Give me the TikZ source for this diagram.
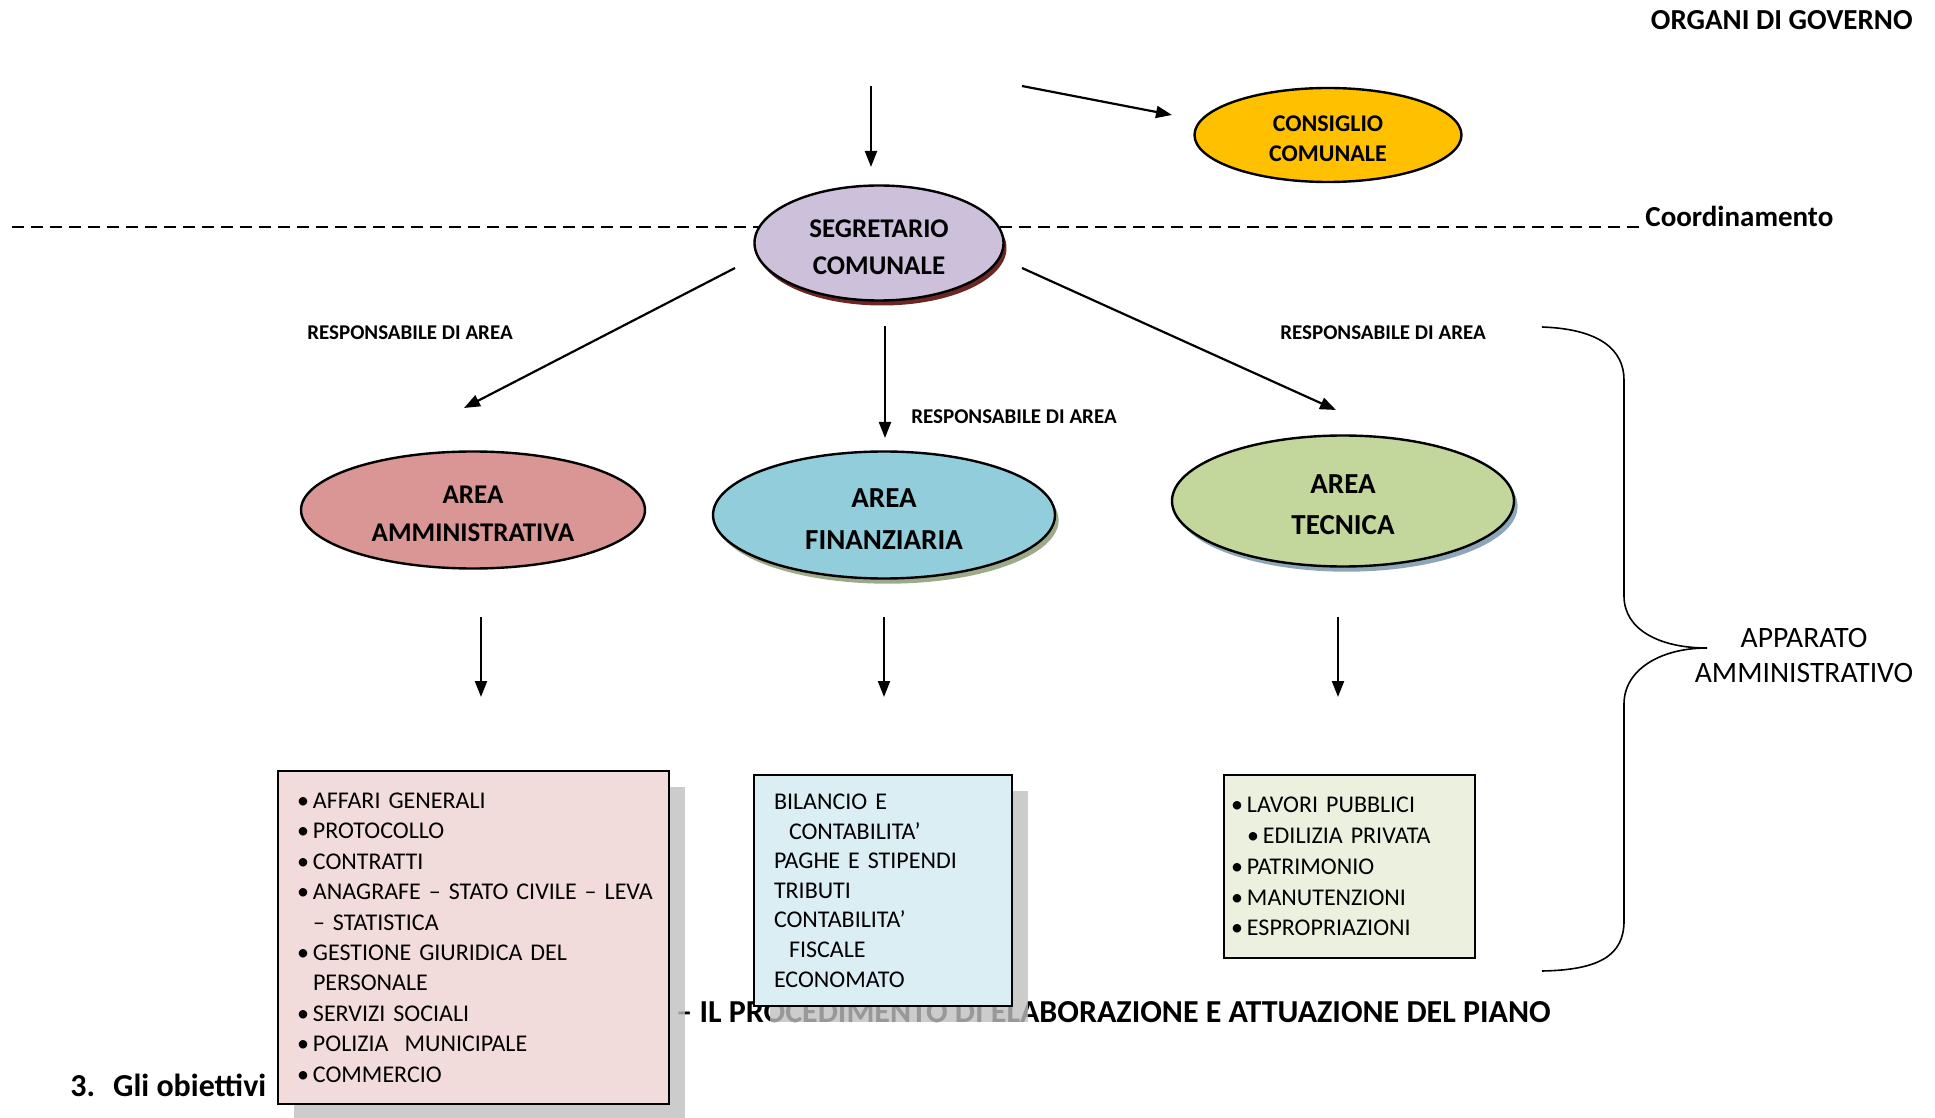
\documentclass[tikz,border=0pt]{standalone}
\usepackage{fontspec}
\setmainfont{Carlito}
\usepackage{tikz}
\usetikzlibrary{arrows.meta, positioning, shapes.geometric, shadows}

\definecolor{consiglio}{HTML}{FFC000}
\definecolor{segretario}{HTML}{CCC0DA}
\definecolor{segshadow}{HTML}{6B2626}
\definecolor{amm}{HTML}{D99694}
\definecolor{fin}{HTML}{92CDDC}
\definecolor{finshadow}{HTML}{9DAA8A}
\definecolor{tec}{HTML}{C3D69B}
\definecolor{tecshadow}{HTML}{8DA6B8}
\definecolor{boxamm}{HTML}{F2DCDB}
\definecolor{boxfin}{HTML}{DBEEF4}
\definecolor{boxtec}{HTML}{EBF1DE}
\definecolor{shadowgray}{HTML}{BFBFBF}

\newcommand{\blt}{\makebox[8pt][l]{\textbullet}}
\newcommand{\dn}[1]{\raisebox{-2pt}[\height][\depth]{#1}}

\begin{document}
\begin{tikzpicture}[
  x=0.5pt, y=-0.5pt,
  org/.style={ellipse, draw, line width=1.2pt, inner sep=0pt, align=center},
  lst/.style={draw, line width=0.9pt, align=left, inner ysep=0pt},
  arr/.style={-{Triangle[length=8pt, width=6pt]}, line width=1.1pt},
  resp/.style={font=\fontsize{10.5}{12}\selectfont\bfseries},
  title/.style={inner sep=0pt, font=\fontsize{14.5}{17}\selectfont\bfseries},
  bigtitle/.style={inner sep=0pt, font=\fontsize{16}{19}\selectfont\bfseries},
  boxshadow/.style={drop shadow={shadow xshift=8pt, shadow yshift=-8pt,
                    fill=shadowgray, opacity=0.8}}]
\useasboundingbox (0,0) rectangle (1935,1118);
\node[title, anchor=east] (organi) at (1913,20) {ORGANI DI GOVERNO};
\node[title, anchor=base west] (coord) at (1645,227) {Coordinamento};
\coordinate (dashstart) at (12,227);
\draw[dash pattern=on 6pt off 3.5pt, line width=1.4pt] (dashstart) -- (coord.base west);
\node[org, fill=consiglio, minimum width=133.5pt, minimum height=47pt,
      font=\fontsize{12}{15}\selectfont\bfseries] (consiglio) at (1328,135)
      {\dn{CONSIGLIO}\\\dn{COMUNALE}};
\node[org, fill=segretario, minimum width=124.5pt, minimum height=57.5pt,
      font=\fontsize{13.5}{18.5}\selectfont\bfseries,
      drop shadow={shadow xshift=1.5pt, shadow yshift=-2.5pt, fill=segshadow, opacity=1}]
      (segr) at (879,243) {\dn{SEGRETARIO}\\\dn{COMUNALE}};
\node[org, fill=amm, minimum width=172pt, minimum height=58.5pt,
      font=\fontsize{13.5}{19}\selectfont\bfseries] (amm) at (473,510)
      {\dn{AREA}\\\dn{AMMINISTRATIVA}};
\node[org, fill=fin, minimum width=171pt, minimum height=63.5pt,
      font=\fontsize{14.5}{21}\selectfont\bfseries,
      drop shadow={shadow xshift=1.8pt, shadow yshift=-2.6pt, fill=finshadow, opacity=1}]
      (fin) at (884,515) {\dn{AREA}\\\dn{FINANZIARIA}};
\node[org, fill=tec, minimum width=171pt, minimum height=65.5pt,
      font=\fontsize{14.5}{20.5}\selectfont\bfseries,
      drop shadow={shadow xshift=1.8pt, shadow yshift=-2.6pt, fill=tecshadow, opacity=1}]
      (tec) at (1343,501) {\dn{AREA}\\\dn{TECNICA}};
\coordinate (gov1) at (871,86);
\coordinate (gov1e) at (871,167);
\coordinate (gov2) at (1022,86);
\coordinate (gov2e) at (1172,115);
\draw[arr] (gov1) -- (gov1e);
\draw[arr] (gov2) -- (gov2e);
\coordinate (s1) at (735,268);
\coordinate (s2) at (885,326);
\coordinate (s3) at (1022,268);
\coordinate (a1) at (464,408);
\coordinate (a2) at (885,438);
\coordinate (a3) at (1336,410);
\draw[arr] (s1) -- (a1);
\draw[arr] (s2) -- (a2);
\draw[arr] (s3) -- (a3);
\node[resp] (resp1) at (410,333) {RESPONSABILE DI AREA};
\node[resp] (resp2) at (1014,417) {RESPONSABILE DI AREA};
\node[resp] (resp3) at (1383,333) {RESPONSABILE DI AREA};
\coordinate (d1) at (481,617);
\coordinate (d2) at (884,617);
\coordinate (d3) at (1338,617);
\coordinate (d1e) at (481,697);
\coordinate (d2e) at (884,697);
\coordinate (d3e) at (1338,697);
\draw[arr] (d1) -- (d1e);
\draw[arr] (d2) -- (d2e);
\draw[arr] (d3) -- (d3e);
\node[bigtitle, anchor=west] (piano) at (676,1012)
  {– IL PROCEDIMENTO DI ELABORAZIONE E ATTUAZIONE DEL PIANO};
\node[bigtitle, anchor=west] (obiettivi) at (70,1085) {3.\hspace{9pt}Gli obiettivi};
\node[lst, fill=boxamm, boxshadow, minimum width=195.5pt, minimum height=166.5pt,
      text width=176.5pt, inner xsep=9.5pt, font=\fontsize{12}{15.2}\selectfont]
      (listamm) at (473.5,937.5)
  {\blt AFFARI GENERALI\\
   \blt PROTOCOLLO\\
   \blt CONTRATTI\\
   \blt \mbox{ANAGRAFE – STATO CIVILE – LEVA}\\
   \hspace*{8pt}– STATISTICA\\
   \blt GESTIONE GIURIDICA DEL\\
   \hspace*{8pt}PERSONALE\\
   \blt SERVIZI SOCIALI\\
   \blt POLIZIA~~MUNICIPALE\\
   \blt COMMERCIO};
\node[lst, fill=boxfin, boxshadow, minimum width=129pt, minimum height=115.5pt,
      text width=109pt, inner xsep=10pt, font=\fontsize{12}{14.8}\selectfont]
      (listfin) at (883,890.5)
  {BILANCIO E\\
   \hspace*{7.5pt}CONTABILITA’\\
   PAGHE E STIPENDI\\
   TRIBUTI\\
   CONTABILITA’\\
   \hspace*{7.5pt}FISCALE\\
   ECONOMATO};
\node[lst, fill=boxtec, minimum width=125.5pt, minimum height=91.5pt,
      text width=118.5pt, inner xsep=3.5pt, font=\fontsize{12}{15.4}\selectfont]
      (listtec) at (1349.5,866.5)
  {\blt LAVORI PUBBLICI\\
   \hspace*{8pt}\blt EDILIZIA PRIVATA\\
   \blt PATRIMONIO\\
   \blt MANUTENZIONI\\
   \blt ESPROPRIAZIONI};
\coordinate (tip) at (1707,648);
\draw[line width=0.8pt] (1542,327) .. controls (1600,329) and (1624,350) .. (1624,380)
  -- (1624,596) .. controls (1624,630) and (1660,648) .. (tip)
  .. controls (1660,648) and (1624,670) .. (1624,704)
  -- (1624,921) .. controls (1624,955) and (1600,970) .. (1542,971);
\node[align=center, font=\fontsize{14.8}{17.5}\selectfont] (apparato) at (1804,655)
  {APPARATO\\AMMINISTRATIVO};
\end{tikzpicture}
\end{document}
